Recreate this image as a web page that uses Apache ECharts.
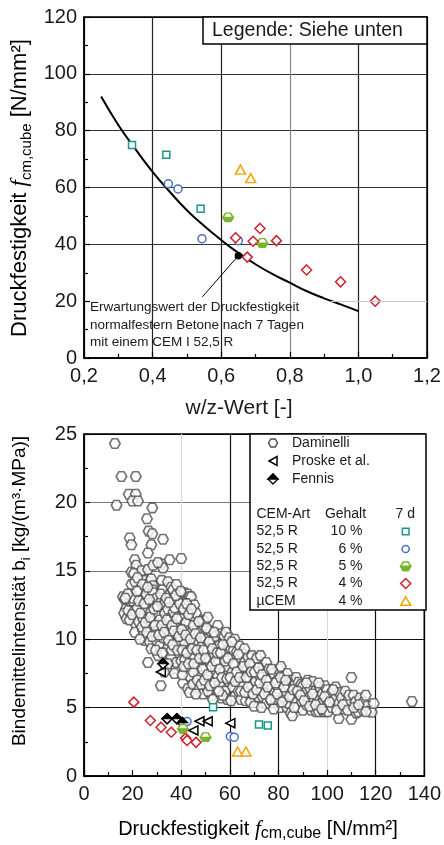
<!DOCTYPE html>
<html><head><meta charset="utf-8">
<script src="https://cdn.jsdelivr.net/npm/echarts@6/dist/echarts.min.js"></script>
<style>html,body{margin:0;padding:0;background:#fff}#c{width:444px;height:845px}</style>
</head><body><div id="c"></div>
<script>
// ---------- Top chart data (w/z-Wert vs Druckfestigkeit) ----------
const topSquares = [[0.34,75],[0.44,71.5],[0.54,52.5]];
const topCircles = [[0.446,61.3],[0.474,59.5],[0.544,42],[0.65,41.3]];
const topGreen = [[0.62,49.5],[0.72,40.5]];
const topDiamonds = [[0.642,42.3],[0.693,41.1],[0.713,45.6],[0.761,41.3],[0.676,35.5],[0.849,31],[0.948,26.8],[1.049,20]];
const topTriangles = [[0.656,66.3],[0.686,63.3]];
const expectCurve = [[0.25,92],[0.3,82],[0.35,73.5],[0.4,65.5],[0.45,58.5],[0.5,52],[0.55,46.5],[0.6,41.5],[0.65,37],[0.7,33],[0.75,29.5],[0.8,26.5],[0.85,23.5],[0.9,21],[0.95,18.8],[1.0,16.5]];
const expectPoint = [[0.65,36]];
const annotLine = [[0.65,36],[0.545,21.5]];

// ---------- Bottom chart data (Druckfestigkeit vs Bindemittelintensität) ----------
const damData = [
[12.7,24.3],[15.4,21.9],[21.3,21.9],[18.4,20.6],[21.3,20.6],[13.4,19.8],[19.9,20.1],[22.2,20.1],[28.1,19.6],[25.9,18.8],[26.6,17.9],[28.1,17.7],[18.8,17.4],[19.5,16.9],[27.7,16.9],[32.5,17.3],[26.3,16.3],[20.9,15.8],[21.5,15.4],[35.2,15.8],[40.0,15.9],[19.5,14.9],[23.6,15.0],[26.3,15.1],[28.4,15.4],[31.8,15.5],[32.5,15.2],[30.4,15.6],
[16.0,13.1],[16.8,12.9],[17.2,12.2],[16.5,11.9],[17.5,11.5],[18.2,12.1],[18.8,11.4],[19.0,12.8],[19.5,13.4],[19.5,14.0],[20.1,12.8],[20.5,14.8],[20.9,12.1],[21.0,14.2],[21.5,11.0],[20.9,10.5],[20.2,13.0],[19.8,11.8],[18.0,13.3],[17.0,13.0],
[22.0,12.3],[22.5,11.3],[22.8,13.6],[23.6,12.8],[24.3,11.5],[24.3,13.0],[24.3,10.6],[25.0,14.3],[25.6,13.3],[25.6,12.3],[25.0,9.9],[26.0,11.0],[26.5,10.2],[27.0,14.2],[27.0,10.9],[27.0,9.8],[27.7,14.4],[27.7,9.3],[27.5,12.0],[28.4,13.9],[28.4,13.6],[28.4,13.4],[28.5,11.3],[29.1,12.6],[29.0,10.5],[29.8,13.0],[29.8,9.9],[30.0,11.8],[30.5,8.8],[23.0,10.0],[22.0,14.5],[24.0,14.0],[26.3,8.3],
[31.1,11.4],[31.1,9.5],[31.8,12.8],[31.6,6.6],[32.5,13.7],[32.5,10.1],[32.0,14.3],[33.2,11.9],[33.0,12.6],[33.5,9.0],[34.5,14.2],[34.5,9.4],[34.0,10.8],[34.5,12.2],[35.2,13.3],[35.2,10.3],[35.5,11.5],[35.9,13.8],[35.9,8.7],[36.6,13.6],[36.6,13.0],[36.0,7.8],[36.8,12.0],[37.3,12.3],[37.9,9.7],[37.9,7.9],[37.2,7.5],[37.5,11.0],[38.0,14.0],[38.7,10.4],[38.5,12.9],[39.4,12.6],[39.4,8.9],[39.0,11.6],[39.5,9.8],[38.0,8.3],[33.0,7.6],[34.5,8.2],[36.0,9.2],
[40.0,11.5],[40.0,8.4],[40.7,6.8],[41.3,13.4],[41.3,9.8],[41.0,12.2],[42.0,11.2],[42.0,7.9],[42.7,13.3],[42.7,6.4],[42.5,10.6],[43.4,9.2],[43.4,7.3],[43.4,6.1],[43.4,13.1],[44.1,10.5],[44.1,13.1],[44.8,8.6],[44.8,6.7],[44.5,11.7],[45.4,12.5],[45.5,9.6],[46.1,11.9],[46.1,9.9],[46.8,8.0],[46.5,10.8],[47.5,10.5],[47.5,6.4],[47.0,7.2],[48.1,7.3],[48.8,11.4],[48.8,8.7],[48.5,9.5],[49.5,10.9],[49.5,11.3],[49.0,6.0],[41.5,8.5],[45.0,7.6],[46.0,6.0],[40.5,7.4],
[50.2,10.0],[50.2,7.9],[50.2,6.6],[50.9,11.6],[51.0,9.2],[51.5,8.4],[52.0,10.6],[52.0,7.0],[52.5,5.9],[53.0,9.8],[53.5,8.9],[54.0,10.2],[54.4,7.5],[54.5,6.3],[55.0,11.0],[55.0,8.2],[55.5,9.5],[56.0,6.8],[56.5,10.4],[56.5,5.7],[57.0,8.7],[57.7,10.2],[57.5,7.6],[58.4,10.5],[58.0,6.2],[58.5,9.1],[59.0,8.0],[59.8,10.1],[59.5,6.9],[60.0,9.4],[59.0,5.6],[51.0,6.2],[53.0,5.6],[55.0,7.3],[57.0,5.9],
[60.5,8.6],[61.2,6.5],[61.0,7.6],[61.5,9.2],[62.0,5.8],[62.9,9.1],[62.5,8.1],[63.0,7.0],[63.5,6.2],[64.0,8.6],[64.5,5.6],[65.0,9.0],[65.0,7.5],[65.5,6.6],[66.0,8.3],[66.5,5.5],[67.0,7.8],[67.5,8.7],[68.0,6.0],[68.0,7.1],[68.5,5.4],[69.1,8.8],[69.0,6.5],[69.5,7.5],[70.0,5.1],[70.0,8.2],[60.5,5.5],[62.0,10.0],[64.0,9.5],[66.0,9.3],
[70.5,6.9],[71.0,8.6],[71.5,5.8],[72.0,7.4],[72.6,8.8],[73.0,6.3],[73.5,5.8],[74.0,7.9],[74.5,6.8],[75.0,5.3],[75.0,8.3],[76.0,7.8],[76.0,6.0],[76.5,7.1],[77.0,5.5],[77.5,6.5],[78.0,7.5],[78.5,6.1],[79.0,5.5],[79.5,7.0],[80.2,7.8],[80.0,6.4],[80.5,5.0],[81.0,8.0],[81.5,6.9],[82.0,5.8],[82.5,7.3],[83.0,6.2],[83.6,7.5],[83.5,5.0],[84.3,5.3],[84.0,6.6],[85.0,4.6],[85.7,4.4],[85.7,7.0],[85.5,5.9],[73.0,5.0],[78.0,4.9],
[86.5,6.85],[87.0,6.8],[87.3,7.2],[87.0,5.4],[88.2,6.85],[88.0,5.0],[88.5,6.0],[89.3,6.7],[89.5,5.4],[90.1,6.6],[90.0,4.8],[91.0,6.1],[91.5,5.2],[92.0,7.0],[92.5,5.7],[93.0,6.4],[93.5,4.8],[94.0,6.9],[94.5,5.5],[95.0,6.2],[95.5,4.7],[96.0,5.8],[96.6,4.7],[97.0,6.5],[97.5,5.3],[98.0,6.0],[98.5,4.7],[99.0,6.6],[99.4,4.7],[100.0,5.6],[100.3,5.3],[100.4,4.7],[100.0,6.3],
[101.5,6.0],[102.0,5.0],[103.0,5.6],[103.5,6.5],[104.8,5.3],[104.8,4.2],[105.0,6.1],[106.0,5.7],[107.0,4.9],[107.5,6.2],[108.2,5.4],[109.0,5.9],[110.0,7.2],[110.0,4.15],[110.9,5.9],[111.6,5.4],[112.0,4.6],[112.8,4.7],[113.5,5.7],[114.8,4.8],[115.0,5.4],[115.9,5.9],[116.5,5.1],[117.6,4.75],[118.4,4.66],[119.2,5.3],[134.9,5.45],
[21.8,13.5],[22.5,12.8],[23.2,11.9],[23.8,10.9],[24.8,12.6],[25.2,11.2],[25.8,10.5],[26.2,13.8],[26.8,12.9],[27.2,11.6],[28.0,10.2],[28.8,12.2],[29.2,11.0],[29.5,9.2],[30.2,12.4],[30.8,10.3],[31.5,13.3],[32.0,11.0],[32.2,9.0],[33.0,10.5],[33.8,13.0],[34.0,11.4],[34.8,9.9],[35.0,12.7],[36.2,11.0],[36.5,9.6],[37.0,10.6],[37.8,13.2],[38.2,11.5],[38.5,9.2],[39.0,10.2],[39.8,13.5],[40.2,10.7],[40.5,9.2],[41.0,8.0],[41.8,10.3],[42.2,12.6],[42.3,9.0],[43.0,11.8],[43.0,8.2],[43.8,10.0],[44.2,12.2],[44.5,9.3],[45.0,11.0],[45.2,8.2],[45.8,10.4],[46.5,9.2],[46.6,7.0],[47.2,11.3],[47.5,8.6],[48.0,10.1],[48.2,6.7],[48.8,7.8],[49.2,9.2],[49.5,7.0],[50.0,8.6],[50.5,10.8],[50.8,7.4],[51.5,9.8],[51.8,6.6],[52.5,8.0],[52.8,9.3],[53.5,10.5],[53.8,6.8],[54.2,8.4],[54.8,9.0],[55.5,6.2],[55.8,7.8],[56.2,9.0],[56.8,7.2],[57.2,9.6],[58.0,8.4],[58.8,7.1],[59.2,8.6],[60.2,7.2],[60.8,9.8],[61.5,8.2],[62.2,6.9],[62.8,7.6],[63.5,8.9],[64.0,7.2],[64.5,6.2],[65.5,8.0],[66.2,6.1],[66.8,7.2],[67.5,6.5],[68.2,8.2],[68.8,7.6],[69.5,6.0],[70.2,7.6],[71.0,6.3],[71.8,7.9],[72.4,6.8],[73.2,7.4],[74.2,6.0],[75.0,7.0],[75.5,6.5],[76.8,5.6],[77.2,7.8],[78.8,6.8],[79.5,6.0],[80.8,7.2],[81.5,5.4],[82.3,6.5],[83.0,7.0],[84.5,5.8],[86.0,6.3],[86.5,5.0],[87.8,6.2],[89.0,5.9],[90.5,5.5],[91.5,6.8],[92.8,5.1],[94.0,6.0],[95.3,5.2],[96.5,6.8],[97.8,4.9],[99.0,5.8],[101.0,5.4],[102.5,6.3],[104.0,4.8],[106.5,5.2],[108.5,4.8],[111.0,5.0],[113.0,5.2],[116.0,4.7]
];
const proske = [[31.6,7.6],[45.0,3.33],[47.5,4.0],[50.9,4.0],[60.2,3.86]];
const fennis = [[32.5,8.2],[34.2,4.18],[38.2,4.18],[40.5,3.9]];
const botSquares = [[53.1,5.03],[72.0,3.76],[75.6,3.7]];
const botCircles = [[42.4,3.98],[60.2,2.89],[61.8,2.84]];
const botGreen = [[40.7,3.45],[50.0,2.84]];
const botDiamonds = [[20.5,5.4],[27.3,4.06],[31.7,3.57],[35.9,3.2],[41.8,2.77],[42.4,2.6],[46.1,2.46]];
const botTriangles = [[63.2,1.79],[66.6,1.79]];

// Legend table
const legendSources = ['Daminelli','Proske et al.','Fennis'];
const legendHeader = ['CEM-Art','Gehalt','7 d'];
const cemTypes = ['52,5 R','52,5 R','52,5 R','52,5 R','µCEM'];
const cemContents = ['10 %','6 %','5 %','4 %','4 %'];

// ---------- styles ----------
const C_TEAL='#16998a', C_BLUE='#4a6fc4', C_GREEN='#78b52c', C_RED='#d0202e', C_ORANGE='#f4a300';
const HEX='path://M-2,0 L-1,-1.732 L1,-1.732 L2,0 L1,1.732 L-1,1.732 Z';
const HALFHEX='path://M-2,0 L2,0 L1,1.732 L-1,1.732 Z';
const FONT='"Liberation Sans", Arial, sans-serif';
const labelStyle={fontSize:20,color:'#1a1a1a',fontFamily:FONT};

function sc(name, xi, data, symbol, size, color, fill, extra){
  return Object.assign({type:'scatter', name, xAxisIndex:xi, yAxisIndex:xi, data, symbol, symbolSize:size,
    itemStyle:{color:fill, borderColor:color, borderWidth:1.5, opacity:1}, emphasis:{disabled:true}, z:3}, extra||{});
}

const series = [
  // top
  {type:'line', xAxisIndex:0, yAxisIndex:0, data:expectCurve, smooth:true, symbol:'none', lineStyle:{color:'#000',width:2}, z:2,
    markLine:{silent:true, symbol:'none', label:{show:false}, lineStyle:{color:'#c8c8c8',width:1.2,type:'solid'},
      data:[[{coord:[0.92,20]},{coord:[1.2,20]}]]}},
  {type:'line', xAxisIndex:0, yAxisIndex:0, data:annotLine, symbol:'none', lineStyle:{color:'#000',width:1}, z:2},
  sc('sq',0,topSquares,'rect',7,C_TEAL,'#fff'),
  sc('ci',0,topCircles,'circle',8,C_BLUE,'#fff'),
  sc('gr',0,topGreen,HEX,[10,8.5],C_GREEN,'#fff'),
  sc('gr2',0,topGreen,HALFHEX,[10,4.25],C_GREEN,C_GREEN,{symbolOffset:[0,2.1],z:4}),
  sc('di',0,topDiamonds,'diamond',10,C_RED,'#fff'),
  sc('tr',0,topTriangles,'triangle',[10,9],C_ORANGE,'#fff'),
  sc('pt',0,expectPoint,'circle',6,'#000','#000',{z:5}),
  // bottom
  sc('Daminelli',1,damData,HEX,[10.5,9.5],'#505050','#fff',{itemStyle:{color:'#fff',borderColor:'#505050',borderWidth:1.6}}),
  sc('Proske',1,proske,'triangle',[9,9],'#000','#fff',{symbolRotate:90,z:4}),
  sc('Fennis',1,fennis,'diamond',[10,10],'#000','#fff',{z:4}),
  sc('Fennis2',1,fennis,'triangle',[10,5],'#000','#000',{symbolOffset:[0,-2.5],z:5}),
  sc('bsq',1,botSquares,'rect',7,C_TEAL,'#fff',{z:4}),
  sc('bci',1,botCircles,'circle',8,C_BLUE,'#fff',{z:4}),
  sc('bgr',1,botGreen,HEX,[10,8.5],C_GREEN,'#fff',{z:4}),
  sc('bgr2',1,botGreen,HALFHEX,[10,4.25],C_GREEN,C_GREEN,{symbolOffset:[0,2.1],z:5}),
  sc('bdi',1,botDiamonds,'diamond',10,C_RED,'#fff',{z:4}),
  sc('btr',1,botTriangles,'triangle',[10,9],C_ORANGE,'#fff',{z:4})
];

function axisCommon(extra){
  return Object.assign({type:'value',
    axisLine:{show:true,onZero:false,lineStyle:{color:'#000',width:1.5}},
    axisTick:{show:true,inside:true,length:6,lineStyle:{color:'#000',width:1.2}},
    minorTick:{show:true,splitNumber:2,length:4,lineStyle:{color:'#000',width:1.2}},
    axisLabel:Object.assign({margin:8,showMinLabel:true,showMaxLabel:true},labelStyle)}, extra);
}

const xAxis=[
  axisCommon({gridIndex:0,min:0.2,max:1.2,interval:0.2,
    axisLabel:Object.assign({margin:8,showMinLabel:true,showMaxLabel:true,formatter:v=>v.toFixed(1).replace('.',',')},labelStyle),
    splitLine:{show:true,lineStyle:{width:1.2,color:['#000','#222','#222','#888','#222','#000']}}}),
  axisCommon({gridIndex:1,min:0,max:140,interval:20,
    splitLine:{show:true,lineStyle:{width:1.2,color:['#000','rgba(0,0,0,0)','#dcdcdc','#111','#111','#dcdcdc','#111','#000']}}})
];
const yAxis=[
  axisCommon({gridIndex:0,min:0,max:120,interval:20,axisLabel:Object.assign({margin:7,showMinLabel:true,showMaxLabel:true},labelStyle),
    splitLine:{show:true,lineStyle:{width:1.2,color:['#000','rgba(0,0,0,0)','#333','#333','#333','#333','#000']}}}),
  axisCommon({gridIndex:1,min:0,max:25,interval:5,axisLabel:Object.assign({margin:7,showMinLabel:true,showMaxLabel:true},labelStyle),
    splitLine:{show:true,lineStyle:{width:1.2,color:['#000','#111','#111','#777','#777','#000']}}})
];

function titleRich(sz,subSz){
  return {a:{fontSize:sz,fontFamily:FONT,lineHeight:sz+6,color:'#1a1a1a'},
          f:{fontSize:sz+1,fontFamily:'"Liberation Serif", serif',fontStyle:'italic',lineHeight:sz+6,color:'#1a1a1a'},
          s:{fontSize:subSz,fontFamily:FONT,lineHeight:subSz+1,verticalAlign:'bottom',color:'#1a1a1a'}};
}
const LF='14px '+FONT;
const graphic=[
  // top legend note
  {type:'rect',z:100,shape:{x:203,y:17,width:224,height:27},style:{fill:'#fff',stroke:'#000',lineWidth:1.5}},
  {type:'text',z:101,x:212,y:31,style:{text:'Legende: Siehe unten',font:'19.5px '+FONT,fill:'#1a1a1a',align:'left',verticalAlign:'middle'}},
  // annotation text
  {type:'text',z:101,x:90,y:299,style:{text:'Erwartungswert der Druckfestigkeit\nnormalfestern Betone nach 7 Tagen\nmit einem CEM I 52,5 R',
    font:'13.5px '+FONT,lineHeight:17.5,fill:'#1a1a1a',align:'left',verticalAlign:'top'}},
  // axis titles
  {type:'text',z:101,x:20,y:188,rotation:Math.PI/2,style:{text:'{a|Druckfestigkeit }{f|f}{s|cm,cube}{a| [N/mm²]}',rich:titleRich(22,15),align:'center',verticalAlign:'middle'}},
  {type:'text',z:101,x:239,y:408,style:{text:'w/z-Wert [-]',font:'21px '+FONT,fill:'#1a1a1a',align:'center',verticalAlign:'middle'}},
  {type:'text',z:101,x:20,y:591,rotation:Math.PI/2,style:{text:'{a|Bindemittelintensität b}{s|i}{a| [kg/(m³·MPa)]}',rich:titleRich(19,13),align:'center',verticalAlign:'middle'}},
  {type:'text',z:101,x:258,y:829,style:{text:'{a|Druckfestigkeit }{f|f}{s|cm,cube}{a| [N/mm²]}',rich:titleRich(20,16),align:'center',verticalAlign:'middle'}},
  // bottom legend box
  {type:'rect',z:100,shape:{x:250,y:434,width:176,height:176},style:{fill:'#fff',stroke:'#000',lineWidth:1.5}},
  {type:'polygon',z:101,shape:{points:[[268.5,443],[270.8,439],[275.2,439],[277.5,443],[275.2,447],[270.8,447]]},style:{fill:'#fff',stroke:'#505050',lineWidth:1.5}},
  {type:'polygon',z:101,shape:{points:[[269,461],[277,456.5],[277,465.5]]},style:{fill:'#fff',stroke:'#000',lineWidth:1.5}},
  {type:'polygon',z:101,shape:{points:[[273,474],[278,479],[273,484],[268,479]]},style:{fill:'#fff',stroke:'#000',lineWidth:1.3}},
  {type:'polygon',z:101,shape:{points:[[273,474],[278,479],[268,479]]},style:{fill:'#000',stroke:'#000',lineWidth:1.3}},
  {type:'text',z:101,x:292,y:443,style:{text:legendSources[0],font:LF,fill:'#1a1a1a',verticalAlign:'middle'}},
  {type:'text',z:101,x:292,y:461,style:{text:legendSources[1],font:LF,fill:'#1a1a1a',verticalAlign:'middle'}},
  {type:'text',z:101,x:292,y:479,style:{text:legendSources[2],font:LF,fill:'#1a1a1a',verticalAlign:'middle'}},
  {type:'text',z:101,x:256.5,y:514,style:{text:legendHeader[0],font:LF,fill:'#1a1a1a',verticalAlign:'middle'}},
  {type:'text',z:101,x:345.5,y:514,style:{text:legendHeader[1],font:LF,fill:'#1a1a1a',align:'center',verticalAlign:'middle'}},
  {type:'text',z:101,x:415,y:514,style:{text:legendHeader[2],font:LF,fill:'#1a1a1a',align:'right',verticalAlign:'middle'}}
];
const rowY=[531.5,549,566.3,583.5,601.3];
rowY.forEach((y,i)=>{
  graphic.push({type:'text',z:101,x:256.5,y:y,style:{text:cemTypes[i],font:LF,fill:'#1a1a1a',verticalAlign:'middle'}});
  graphic.push({type:'text',z:101,x:362.5,y:y,style:{text:cemContents[i],font:LF,fill:'#1a1a1a',align:'right',verticalAlign:'middle'}});
});
const mx=405.7;
graphic.push({type:'rect',z:101,shape:{x:mx-3.3,y:rowY[0]-3.3,width:6.6,height:6.6},style:{fill:'#fff',stroke:C_TEAL,lineWidth:1.5}});
graphic.push({type:'circle',z:101,shape:{cx:mx,cy:rowY[1],r:3.6},style:{fill:'#fff',stroke:C_BLUE,lineWidth:1.5}});
graphic.push({type:'polygon',z:101,shape:{points:[[mx-5,rowY[2]],[mx-2.5,rowY[2]-4.2],[mx+2.5,rowY[2]-4.2],[mx+5,rowY[2]],[mx+2.5,rowY[2]+4.2],[mx-2.5,rowY[2]+4.2]]},style:{fill:'#fff',stroke:C_GREEN,lineWidth:1.5}});
graphic.push({type:'polygon',z:102,shape:{points:[[mx-5,rowY[2]],[mx+5,rowY[2]],[mx+2.5,rowY[2]+4.2],[mx-2.5,rowY[2]+4.2]]},style:{fill:C_GREEN,stroke:C_GREEN,lineWidth:1.5}});
graphic.push({type:'polygon',z:101,shape:{points:[[mx,rowY[3]-5],[mx+5,rowY[3]],[mx,rowY[3]+5],[mx-5,rowY[3]]]},style:{fill:'#fff',stroke:C_RED,lineWidth:1.5}});
graphic.push({type:'polygon',z:101,shape:{points:[[mx,rowY[4]-4.5],[mx+5,rowY[4]+4],[mx-5,rowY[4]+4]]},style:{fill:'#fff',stroke:C_ORANGE,lineWidth:1.5}});

const chart=echarts.init(document.getElementById('c'),null,{renderer:'canvas'});
chart.setOption({
  animation:false,
  backgroundColor:'#fff',
  grid:[
    {left:84,top:17,width:343,height:341,show:true,borderColor:'#000',borderWidth:1.5,backgroundColor:'transparent'},
    {left:84,top:434,width:342,height:342,show:true,borderColor:'#000',borderWidth:1.5,backgroundColor:'transparent'}
  ],
  xAxis, yAxis, series, graphic
});
</script></body></html>
